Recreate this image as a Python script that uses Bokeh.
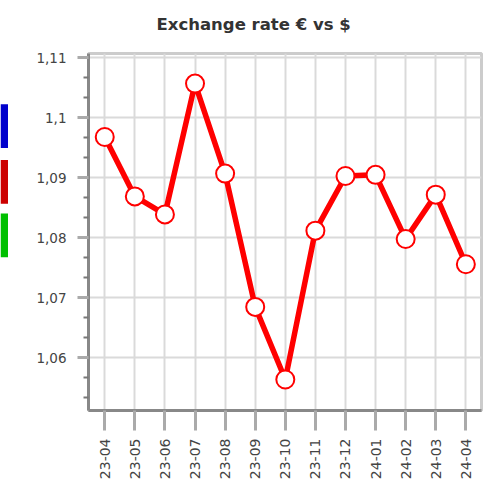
from bokeh.plotting import figure
from bokeh.layouts import row
from bokeh.models import Range1d, FixedTicker, CustomJSTickFormatter
from bokeh.embed import file_html
from bokeh.resources import INLINE

months = ["23-04", "23-05", "23-06", "23-07", "23-08", "23-09", "23-10",
          "23-11", "23-12", "24-01", "24-02", "24-03", "24-04"]
rates = [1.0968, 1.0869, 1.0839, 1.1057, 1.0907, 1.0685, 1.0564,
         1.0812, 1.0903, 1.0905, 1.0798, 1.0872, 1.0756]
y_ticks = [1.06, 1.07, 1.08, 1.09, 1.10, 1.11]
title_text = "Exchange rate € vs $"
side_colors = ["#0000cc", "#cc0000", "#00c000"]

x_idx = list(range(len(months)))

# narrow strip with the cut-off side buttons (its frame is aligned with the main frame)
side = figure(width=8, height=482, x_range=Range1d(0, 8), y_range=Range1d(412, 53),
              output_backend="svg", toolbar_location=None,
              min_border_left=0, min_border_right=0, min_border_top=53, min_border_bottom=70,
              x_axis_location=None, y_axis_location=None,
              outline_line_color=None, background_fill_color="white", border_fill_color="white")
side.grid.visible = False
btn_tops = [104, 160, 214]
side.quad(left=0, right=8, top=btn_tops, bottom=[t + 44 for t in btn_tops],
          fill_color=side_colors, line_color=None)

p = figure(width=482, height=482,
           x_range=Range1d(-0.54, 12.52), y_range=Range1d(1.05124, 1.11071),
           output_backend="svg", toolbar_location=None,
           min_border_left=80, min_border_right=9, min_border_top=53, min_border_bottom=70,
           background_fill_color="white", border_fill_color="white")

# trailing empty line lifts the title away from the frame
p.title.text = title_text + "\n"
p.title.text_font = "DejaVu Sans"
p.title.text_font_size = "16.5px"
p.title.text_font_style = "bold"
p.title.text_color = "#333333"
p.title.align = "left"
p.title.standoff = 2
p.title.offset = 68

p.outline_line_color = "#cccccc"
p.outline_line_width = 3

# grids
p.xgrid.ticker = FixedTicker(ticks=x_idx)
p.ygrid.ticker = FixedTicker(ticks=y_ticks)
for g in (p.xgrid, p.ygrid):
    g.grid_line_color = "#dadada"
    g.grid_line_width = 2

# x axis
xa = p.xaxis[0]
xa.ticker = FixedTicker(ticks=x_idx, minor_ticks=[])
xa.major_label_overrides = {i: m for i, m in zip(x_idx, months)}
xa.major_label_orientation = 3.14159265 / 2
xa.axis_line_color = "#888888"
xa.axis_line_width = 3
xa.major_tick_line_color = "#aaaaaa"
xa.major_tick_line_width = 3
xa.major_tick_out = 20
xa.major_tick_in = 0
xa.major_label_standoff = 8
xa.major_label_text_font = "DejaVu Sans"
xa.major_label_text_font_size = "14px"
xa.major_label_text_color = "#444444"

# y axis
minor = []
step = 0.01 / 3
for t in [y_ticks[0] - 0.01] + y_ticks:
    minor += [t + step, t + 2 * step]
ya = p.yaxis[0]
ya.ticker = FixedTicker(ticks=y_ticks, minor_ticks=minor)
ya.formatter = CustomJSTickFormatter(code="return tick.toFixed(2).replace(/0$/, '').replace('.', ',');")
ya.axis_line_color = "#888888"
ya.axis_line_width = 3
ya.major_tick_line_color = "#aaaaaa"
ya.major_tick_line_width = 3
ya.major_tick_out = 11
ya.major_tick_in = 0
ya.minor_tick_out = 5
ya.minor_tick_in = 0
ya.minor_tick_line_color = "#777777"
ya.minor_tick_line_width = 2
ya.major_label_standoff = 11
ya.major_label_text_font = "DejaVu Sans"
ya.major_label_text_font_size = "13.5px"
ya.major_label_text_color = "#444444"

# data
p.line(x_idx, rates, line_color="#ff0000", line_width=5.5)
p.scatter(x_idx, rates, size=18, fill_color="white", line_color="#ff0000", line_width=2)

layout = row(side, p, spacing=0)
open("out.html", "w").write(file_html(layout, INLINE))
